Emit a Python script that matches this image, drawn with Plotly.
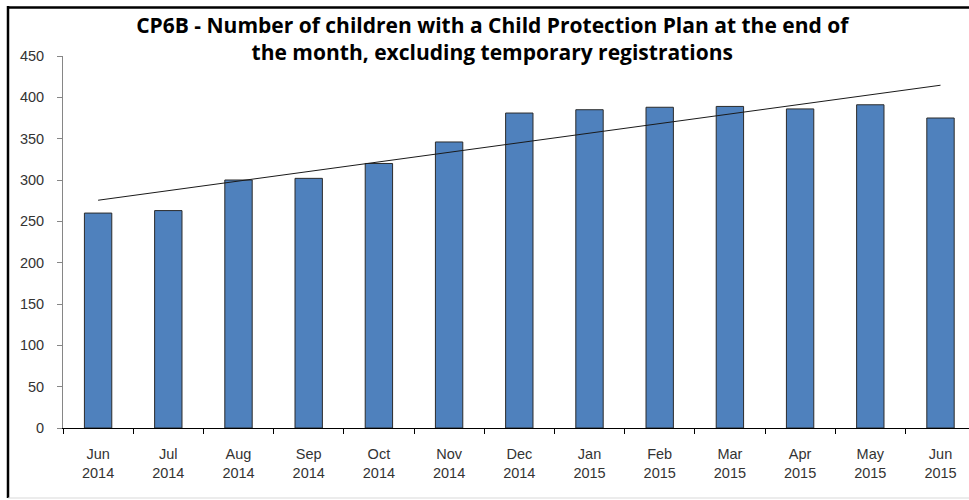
import numpy as np
import plotly.graph_objects as go

months = ["Jun<br>2014", "Jul<br>2014", "Aug<br>2014", "Sep<br>2014", "Oct<br>2014", "Nov<br>2014",
          "Dec<br>2014", "Jan<br>2015", "Feb<br>2015", "Mar<br>2015", "Apr<br>2015", "May<br>2015",
          "Jun<br>2015"]
children = [260, 263, 300, 302, 320, 346, 381, 385, 388, 389, 386, 391, 375]
y_ticks = [0, 50, 100, 150, 200, 250, 300, 350, 400, 450]

# linear trendline (Excel-style) fitted to the data
idx = np.arange(len(children))
slope, intercept = np.polyfit(idx, children, 1)
trend = (slope * idx + intercept).tolist()

W, H = 969, 500
ML, MR, MT, MB = 63, 0, 56, 72
pw, ph = W - ML - MR, H - MT - MB

def px(x):
    return (x - ML) / pw

def py(y):
    return (H - MB - y) / ph

fig = go.Figure()
fig.add_trace(go.Bar(
    x=months, y=children, width=0.39,
    marker=dict(color="#4F81BD", line=dict(color="#2b2b2b", width=1)),
    showlegend=False, hoverinfo="x+y",
))
fig.add_trace(go.Scatter(
    x=months, y=trend, mode="lines",
    line=dict(color="#1a1a1a", width=1),
    showlegend=False, hoverinfo="skip",
))

fig.update_layout(
    width=W, height=H,
    margin=dict(l=ML, r=MR, t=MT, b=MB),
    paper_bgcolor="white", plot_bgcolor="white",
    font=dict(family="Liberation Sans, Arial, sans-serif", size=14.5, color="#333333"),
    title=dict(
        text="<b>CP6B - Number of children with a Child Protection Plan at the end of<br>the month, excluding temporary registrations</b>",
        x=0.508, xanchor="center", y=1 - 33 / H, yanchor="top",
        font=dict(family="Open Sans, Liberation Sans, sans-serif", size=21, color="#000000"),
    ),
    xaxis=dict(
        type="category", range=[-0.5, -0.5 + pw / 70.2],
        showline=True, linecolor="#000000", linewidth=1,
        ticks="outside", ticklen=5, tickcolor="#000000", tickson="boundaries",
        ticklabelstandoff=13,
        showgrid=False, tickfont=dict(size=14.5, color="#333333"),
    ),
    yaxis=dict(
        range=[0, 450], tickvals=y_ticks,
        showline=True, linecolor="#868686", linewidth=1,
        ticks="outside", ticklen=5, tickcolor="#868686",
        ticklabelstandoff=10,
        showgrid=False, zeroline=False, tickfont=dict(size=14.5, color="#333333"),
    ),
    shapes=[
        dict(type="line", xref="paper", yref="paper", x0=px(8), x1=px(8), y0=py(6), y1=py(498),
             line=dict(color="#000000", width=2.5)),
        dict(type="line", xref="paper", yref="paper", x0=px(7), x1=px(969), y0=py(7.5), y1=py(7.5),
             line=dict(color="#000000", width=2.5)),
        dict(type="line", xref="paper", yref="paper", x0=px(8), x1=px(969), y0=py(498), y1=py(498),
             line=dict(color="#d9d9d9", width=1)),
    ],
)

fig.write_html("out.html", config={"displayModeBar": False},
               post_script="document.body.style.margin='0';document.body.style.overflow='hidden';")
